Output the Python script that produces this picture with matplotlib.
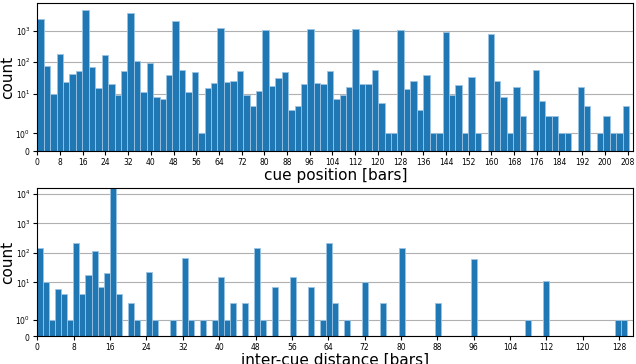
import numpy as np
import matplotlib
matplotlib.use("Agg")
import matplotlib.pyplot as plt
from matplotlib.ticker import NullLocator

# histogram of cue positions (bin counts)
cue_counts = [2400, 73, 10, 178, 23, 43, 52, 4400, 69, 15,
              166, 20, 9, 51, 3500, 107, 11, 91, 8, 7,
              40, 2000, 55, 11, 48, 1, 15, 22, 1180, 23,
              25, 52, 9, 4, 12, 1050, 18, 32, 48, 3,
              4, 20, 1100, 22, 21, 52, 7, 9, 16, 1100,
              20, 21, 57, 5, 1, 1, 1050, 14, 26, 3,
              39, 1, 1, 910, 9, 19, 1, 34, 1, 0,
              780, 26, 8, 1, 16, 2, 0, 55, 6, 2,
              2, 1, 1, 0, 16, 4, 0, 1, 2, 1,
              1, 4]
cue_max = 208.5
cue_ticks = list(range(0, 209, 8))

# histogram of inter-cue distances
dist_counts = [151, 10, 1, 6, 4, 1, 216, 4, 18, 112,
               7, 21, 16000, 4, 0, 2, 1, 0, 23, 1,
               0, 0, 1, 0, 65, 1, 0, 1, 0, 1,
               15, 1, 2, 0, 2, 0, 147, 1, 0, 7,
               0, 0, 15, 0, 0, 7, 0, 1, 222, 2,
               0, 1, 0, 0, 10, 0, 0, 2, 0, 0,
               150, 0, 0, 0, 0, 0, 2, 0, 0, 0,
               0, 0, 62, 0, 0, 0, 0, 0, 0, 0,
               0, 1, 0, 0, 11, 0, 0, 0, 0, 0,
               0, 0, 0, 0, 0, 0, 1, 1, 0]
dist_max = 131.1
dist_ticks = list(range(0, 129, 8))

fig = plt.figure(figsize=(6.36, 3.64), dpi=100)
ax1 = fig.add_axes([0.0587, 0.5852, 0.937, 0.4058])
ax2 = fig.add_axes([0.0587, 0.0769, 0.937, 0.4058])


def draw_hist(ax, counts, xmax, xticks, yticks, ytop, xlabel):
    edges = np.linspace(0, xmax, len(counts) + 1)
    ax.hist(edges[:-1], bins=edges, weights=counts, color="#1f77b4",
            edgecolor="#9cc3e3", linewidth=0.6)
    ax.set_yscale("symlog", linthresh=2, linscale=1)
    ax.set_ylim(0, ytop)
    ax.set_xlim(0, xmax)
    ax.set_yticks(yticks)
    ax.yaxis.set_minor_locator(NullLocator())
    ax.set_xticks(xticks)
    ax.tick_params(labelsize=5.5, length=3, pad=2)
    ax.set_axisbelow(True)
    ax.grid(axis="y", color="#b0b0b0", linewidth=0.8)
    ax.set_xlabel(xlabel, fontsize=11, labelpad=0.5)
    ax.set_ylabel("count", fontsize=11, labelpad=0.5)


draw_hist(ax1, cue_counts, cue_max, cue_ticks, [0, 1, 10, 100, 1000], 7300,
          "cue position [bars]")
ax1.set_xlim(0, 210)
draw_hist(ax2, dist_counts, dist_max, dist_ticks, [0, 1, 10, 100, 1000, 10000],
          15300, "inter-cue distance [bars]")

fig.savefig("out.png", dpi=100)
